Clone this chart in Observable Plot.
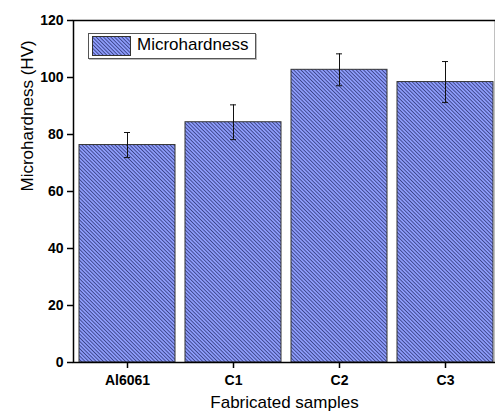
<!DOCTYPE html>
<html>
<head>
<meta charset="utf-8">
<script src="https://cdn.jsdelivr.net/npm/d3@7"></script>
<script src="https://cdn.jsdelivr.net/npm/@observablehq/plot@0.6"></script>
<style>
  html, body { margin: 0; padding: 0; background: #fff; }
  #wrap { position: relative; width: 495px; height: 416px; overflow: hidden; font-family: "Liberation Sans", Arial, sans-serif; }
  #legend { position: absolute; left: 88px; top: 33px; width: 166px; height: 24px; border: 1px solid #555; background: #fff; box-shadow: 1px 1px 0 #bbb; }
  #legend svg { position: absolute; left: 3px; top: 2px; }
  #legend span { position: absolute; left: 48px; top: 1px; font-size: 17px; line-height: 20px; color: #000; }
</style>
</head>
<body>
<svg width="0" height="0" style="position:absolute">
  <defs>
    <pattern id="hatch" patternUnits="userSpaceOnUse" width="4" height="2.6" patternTransform="rotate(45)">
      <rect x="0" y="0" width="4" height="2.6" fill="#8d9cfa"></rect>
      <line x1="0" y1="0.4" x2="4" y2="0.4" stroke="#2a3070" stroke-width="0.8"></line>
    </pattern>
  </defs>
</svg>
<div id="wrap">
  <div id="legend">
    <svg width="39" height="20"><rect x="0.5" y="0.5" width="38" height="19" fill="url(#hatch)" stroke="#333"></rect></svg>
    <span>Microhardness</span>
  </div>
</div>
<script>
const samples = ["Al6061", "C1", "C2", "C3"];
const hardness = [76.3, 84.3, 102.7, 98.4];
const errors = [4.4, 6.1, 5.6, 7.2];
const yTicks = [0, 20, 40, 60, 80, 100, 120];
const xTitle = "Fabricated samples";
const yTitle = "Microhardness (HV)";

const data = samples.map((s, i) => ({sample: s, value: hardness[i], err: errors[i]}));

const chart = Plot.plot({
  width: 495,
  height: 416,
  marginTop: 20,
  marginBottom: 54,
  marginLeft: 73,
  marginRight: 0,
  style: {fontFamily: "'Liberation Sans', Arial, sans-serif", color: "#000", background: "transparent", overflow: "visible"},
  x: {domain: samples, range: [74, 498], paddingInner: 0.094, paddingOuter: 0.047},
  y: {domain: [0, 120]},
  marks: [
    Plot.barY(data, {x: "sample", y: "value", fill: "url(#hatch)", stroke: "#333", strokeWidth: 1}),
    Plot.ruleX(data, {x: "sample", y1: d => d.value - d.err, y2: d => d.value + d.err, stroke: "#111", strokeWidth: 1}),
    Plot.tickY(data, {x: "sample", y: d => d.value - d.err, insetLeft: 45, insetRight: 45, stroke: "#111", strokeWidth: 1}),
    Plot.tickY(data, {x: "sample", y: d => d.value + d.err, insetLeft: 45, insetRight: 45, stroke: "#111", strokeWidth: 1}),
    Plot.frame({stroke: "#000", strokeWidth: 1.5}),
    Plot.axisY({ticks: yTicks, tickSize: 6, tickPadding: 4, tickFormat: d => String(d), fontSize: 14, fontWeight: "bold", strokeWidth: 1.5, label: null}),
    Plot.axisX({tickSize: 6, tickPadding: 7, fontSize: 14, fontWeight: "bold", strokeWidth: 1.5, label: null}),
    Plot.text([yTitle], {frameAnchor: "left", rotate: -90, dx: -46, fontSize: 17, fill: "#000"}),
    Plot.text([xTitle], {frameAnchor: "bottom", dy: 45, fontSize: 17, fill: "#000"})
  ]
});
const wrap = document.getElementById("wrap");
wrap.insertBefore(chart, wrap.firstChild);
</script>
</body>
</html>
